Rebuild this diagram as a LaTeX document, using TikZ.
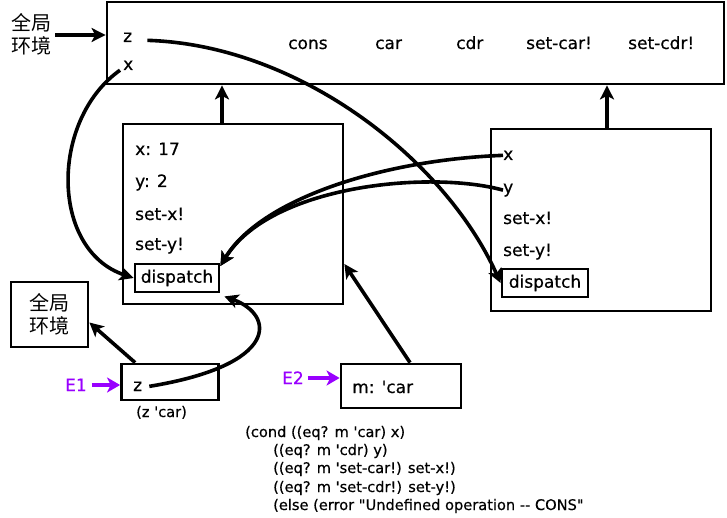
\documentclass[tikz,border=0pt]{standalone}
\usepackage{fontspec}
\setmainfont{DejaVu Sans}
\newfontface\hand{DejaVu Sans}[FakeBold=0.5]
\newfontfamily\cjk{Noto Sans CJK SC}
\usetikzlibrary{arrows.meta}
\definecolor{purp}{RGB}{153,0,255}
\newcommand\apos{\textquotesingle}
\tikzset{
  frame/.style={draw, line width=2.8pt, rectangle, inner sep=0pt},
  lbl/.style={anchor=base west, inner sep=0pt, font=\hand\fontsize{17}{20}\selectfont},
  code/.style={anchor=base west, inner sep=0pt, font=\hand\fontsize{14.6}{18}\selectfont},
  cjkfont/.style={font=\cjk\fontsize{20}{23}\selectfont, align=center, inner sep=0pt},
  conn/.style={line width=3.6pt, -{Stealth[length=14pt,width=14pt,inset=3.5pt]}},
  pconn/.style={line width=4.4pt, purp, -{Stealth[length=13pt,width=15pt,inset=3.5pt]}},
  plbl/.style={anchor=base west, inner sep=0pt, text=purp, font=\hand\fontsize{17}{20}\selectfont},
}
\begin{document}
\begin{tikzpicture}[x=1pt,y=-1pt]
\useasboundingbox (0,0) rectangle (727,518);
% global environment box
\node[frame, minimum width=617pt, minimum height=82pt] (gbox) at (415.5,43) {};
\node[cjkfont] (glab) at (31,34) {全局\\环境};
\draw[conn] ([xshift=4pt,yshift=-1pt]glab.east) -- ([yshift=-1pt]glab.east -| gbox.west);
\node[lbl] (gz) at (123,42) {z};
\node[lbl] (gx) at (123,70) {x};
\node[lbl] (gcons) at (288,49) {cons};
\node[lbl] (gcar) at (375,49) {car};
\node[lbl] (gcdr) at (456,49) {cdr};
\node[lbl] (gsca) at (526,49) {set-car!};
\node[lbl] (gscd) at (628,49) {set-cdr!};
% frame 1
\node[frame, minimum width=220pt, minimum height=180pt] (f1) at (233,214) {};
\node[lbl] (f1x) at (135,155) {x: 17};
\node[lbl] (f1y) at (135,187) {y: 2};
\node[lbl] (f1sx) at (135,220) {set-x!};
\node[lbl] (f1sy) at (135,250) {set-y!};
\node[frame, font=\hand\fontsize{17}{20}\selectfont, minimum width=84pt, minimum height=28pt] (d1) at (177,278) {dispatch};
% frame 2
\node[frame, minimum width=220pt, minimum height=182pt] (f2) at (601,220) {};
\node[lbl] (f2x) at (503,160) {x};
\node[lbl] (f2y) at (503,193) {y};
\node[lbl] (f2sx) at (503,224) {set-x!};
\node[lbl] (f2sy) at (503,256) {set-y!};
\node[frame, font=\hand\fontsize{17}{20}\selectfont, minimum width=86pt, minimum height=28pt] (d2) at (545,283) {dispatch};
% small global box
\node[frame, cjkfont, minimum width=77pt, minimum height=65pt] (sg) at (49.5,314.5) {全局\\环境};
% E1
\node[frame, minimum width=97pt, minimum height=36pt] (e1) at (170,382) {};
\node[lbl] (e1z) at (133,391) {z};
\node[code] (e1c) at (136,417) {(z \apos car)};
\node[plbl] (e1l) at (65,391) {E1};
\draw[pconn] ([xshift=5pt,yshift=6pt]e1l.base east) -- ([yshift=6pt]e1l.base east -| e1.west);
% E2
\node[frame, minimum width=120pt, minimum height=44pt] (e2) at (401,386) {};
\node[lbl] (e2m) at (352,393) {m: \apos car};
\node[plbl] (e2l) at (282,384) {E2};
\draw[pconn] ([xshift=4pt,yshift=6pt]e2l.base east) -- ([yshift=6pt]e2l.base east -| e2.west);
% code
\node[code] (c1) at (245,437) {(cond ((eq? m \apos car) x)};
\node[code] (c2) at (273,455) {((eq? m \apos cdr) y)};
\node[code] (c3) at (273,473) {((eq? m \apos set-car!) set-x!)};
\node[code] (c4) at (273,492) {((eq? m \apos set-cdr!) set-y!)};
\node[code] (c5) at (273,510) {(else (error \textquotedbl Undefined operation -{}- CONS\textquotedbl};
% straight connectors
\draw[conn] ([xshift=-11pt]f1.north) -- ([xshift=-11pt]f1.north |- gbox.south);
\draw[conn] ([xshift=6pt]f2.north) -- ([xshift=6pt]f2.north |- gbox.south);
\draw[conn] ([xshift=15pt]e1.north west) -- ([yshift=-8pt]sg.east);
\draw[conn] ([xshift=9pt]e2.north) -- ([yshift=-50pt]f1.east);
% curved connectors
\draw[conn] ([xshift=-3pt]gx.south west) .. controls (50,120) and (50,250) .. (d1.west);
\draw[conn] ([xshift=15pt,yshift=-3pt]gz.east) .. controls (300,45) and (445,160) .. (d2.west);
\draw[conn] (f2x.west) .. controls (380,160) and (260,200) .. ([yshift=12pt]d1.east);
\draw[conn] (f2y.west) .. controls (430,170) and (270,185) .. ([yshift=12pt]d1.east);
\draw[conn] ([xshift=7pt]e1z.east) .. controls (280,365) and (275,315) .. ([xshift=4pt,yshift=-3pt]d1.south east);
\end{tikzpicture}
\end{document}
